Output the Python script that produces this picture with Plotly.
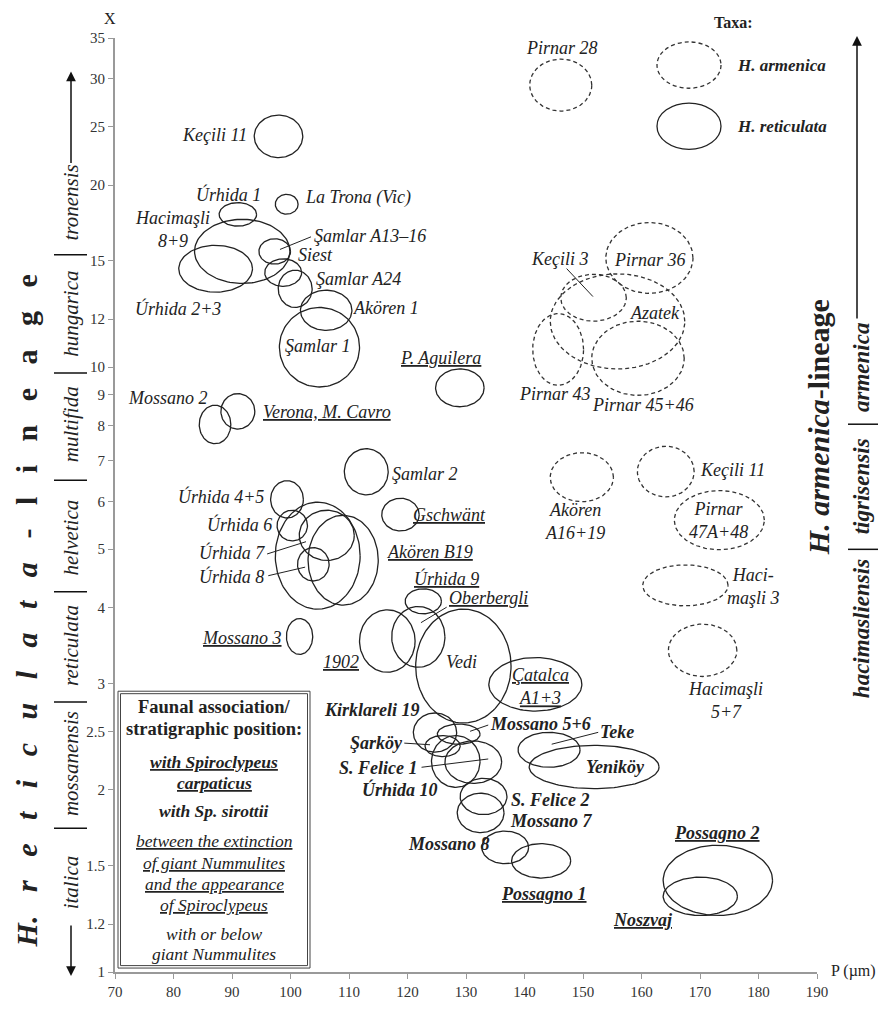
import numpy as np
import plotly.graph_objects as go

# ---------------- data ----------------
# H. reticulata populations: range of P (µm) and X of each ellipse
ret_names = ["Keçili 11", "Úrhida 1", "La Trona (Vic)", "Hacimaşli 8+9", "Úrhida 2+3",
             "Şamlar A13–16", "Siest", "Şamlar A24", "Akören 1", "Şamlar 1", "P. Aguilera",
             "Mossano 2", "Verona, M. Cavro", "Şamlar 2", "Úrhida 4+5", "Gschwänt", "Úrhida 6",
             "Úrhida (pooled)", "Úrhida 7", "Akören B19", "Úrhida 8", "Mossano 3", "Úrhida 9",
             "1902", "Oberbergli", "Vedi", "Çatalca A1+3", "Kirklareli 19", "Mossano 5+6",
             "Şarköy", "S. Felice 1", "Úrhida 10", "S. Felice 2", "Mossano 7", "Mossano 8",
             "Possagno 1", "Teke", "Yeniköy", "Possagno 2", "Noszvaj"]
ret_pmin = [93.8, 87.8, 97.4, 83.6, 80.9, 94.6, 95.6, 97.9, 101.7, 98.1, 124.8,
            84.4, 88.1, 109.2, 96.6, 115.6, 97.7, 97.4, 101.5, 103.0, 101.2, 99.3, 119.6,
            111.8, 117.3, 121.4, 133.9, 121.0, 125.1, 123.0, 124.1, 126.4, 129.0, 128.5, 132.7,
            137.8, 138.9, 140.8, 163.7, 163.7]
ret_pmax = [102.1, 94.2, 101.3, 99.9, 93.5, 100.0, 101.9, 103.7, 110.5, 111.8, 133.1,
            89.8, 93.9, 116.7, 102.2, 122.0, 102.9, 111.9, 110.9, 115.0, 106.6, 103.8, 125.8,
            121.3, 126.4, 137.7, 149.8, 128.4, 132.4, 129.0, 132.4, 136.1, 137.0, 136.5, 140.7,
            147.9, 149.5, 163.0, 182.4, 176.4]
ret_xmin = [22.2, 17.1, 17.9, 13.75, 13.3, 14.8, 13.6, 12.55, 11.5, 9.27, 8.6,
            7.47, 7.9, 6.15, 5.63, 5.36, 5.16, 3.98, 4.79, 4.04, 4.43, 3.35, 3.91,
            3.13, 3.19, 2.58, 2.70, 2.31, 2.38, 2.27, 2.02, 2.05, 1.82, 1.70, 1.51,
            1.43, 2.18, 2.01, 1.24, 1.24]
ret_xmax = [26.1, 18.7, 19.3, 17.55, 15.9, 16.3, 15.1, 14.46, 13.4, 12.55, 9.93,
            8.65, 9.04, 7.33, 6.49, 6.07, 5.80, 5.98, 5.80, 5.69, 5.03, 3.84, 4.30,
            3.97, 4.02, 3.98, 3.31, 2.68, 2.57, 2.46, 2.46, 2.41, 2.09, 1.975, 1.71,
            1.63, 2.49, 2.37, 1.62, 1.435]

# H. armenica populations
arm_names = ["Pirnar 28", "Pirnar 36", "Keçili 3", "Azatek", "Pirnar 43", "Pirnar 45+46",
             "Akören A16+19", "Keçili 11", "Pirnar 47A+48", "Hacimaşli 3", "Hacimaşli 5+7"]
arm_pmin = [140.9, 153.9, 146.2, 144.4, 141.4, 151.5, 144.4, 159.3, 165.6, 160.2, 164.6]
arm_pmax = [151.5, 168.8, 157.4, 167.4, 150.1, 167.3, 155.2, 169.0, 181.0, 174.8, 176.3]
arm_xmin = [26.5, 13.24, 11.91, 9.93, 9.33, 8.98, 5.99, 6.10, 4.99, 4.03, 3.08]
arm_xmax = [32.3, 17.34, 14.24, 14.26, 12.26, 11.91, 7.22, 7.40, 6.25, 4.71, 3.76]

y_ticks = [1, 1.2, 1.5, 2, 2.5, 3, 4, 5, 6, 7, 8, 9, 10, 12, 15, 20, 25, 30, 35]
x_ticks = [70, 80, 90, 100, 110, 120, 130, 140, 150, 160, 170, 180, 190]

left_taxa = ["tronensis", "hungarica", "multifida", "helvetica", "reticulata", "mossanensis", "italica"]
right_taxa = ["armenica", "tigrisensis", "hacimasliensis"]

# ---------------- helpers ----------------
FONT = "Liberation Serif"
INK = "#222222"
T = np.linspace(0, 2 * np.pi, 121)


def outline(pmin, pmax, xmin, xmax):
    xs, ys = [], []
    for a0, a1, b0, b1 in zip(pmin, pmax, xmin, xmax):
        pc, pa = (a0 + a1) / 2, (a1 - a0) / 2
        l0, l1 = np.log10(b0), np.log10(b1)
        lc, lb = (l0 + l1) / 2, (l1 - l0) / 2
        xs += list(pc + pa * np.cos(T)) + [None]
        ys += list(10 ** (lc + lb * np.sin(T))) + [None]
    return xs, ys


fig = go.Figure()
xs, ys = outline(ret_pmin, ret_pmax, ret_xmin, ret_xmax)
fig.add_trace(go.Scatter(x=xs, y=ys, mode="lines", line=dict(color=INK, width=1.3),
                         hoverinfo="skip", showlegend=False))
xs, ys = outline(arm_pmin, arm_pmax, arm_xmin, arm_xmax)
fig.add_trace(go.Scatter(x=xs, y=ys, mode="lines", line=dict(color="#333333", width=1.3, dash="4px,3px"),
                         hoverinfo="skip", showlegend=False))

# leader lines (P, X) pairs
leaders = [((98.2, 15.65), (103.5, 16.42)), ((96.0, 4.91), (102.65, 5.145)),
           ((96.2, 4.52), (102.5, 4.67)), ((122.3, 3.78), (126.7, 4.01)),
           ((147.2, 14.55), (151.7, 13.08)), ((133.8, 2.56), (130.7, 2.50)),
           ((152.6, 2.49), (144.65, 2.38)), ((119.45, 2.39), (123.85, 2.375)),
           ((122.4, 2.18), (133.8, 2.25))]
lx, ly = [], []
for (a, b) in leaders:
    lx += [a[0], b[0], None]
    ly += [a[1], b[1], None]
fig.add_trace(go.Scatter(x=lx, y=ly, mode="lines", line=dict(color=INK, width=1),
                         hoverinfo="skip", showlegend=False))

annotations = []


def lab(text, p, x, size=18, color=INK):
    annotations.append(dict(text=text, x=p, y=float(np.log10(x)), xref="x", yref="y",
                            showarrow=False, xanchor="center", yanchor="middle",
                            font=dict(family=FONT, size=size, color=color)))


# site labels (italic / underlined / bold as in the original)
labels = [
    ("<i>Keçili 11</i>", 87.0, 24.2), ("<i>Úrhida 1</i>", 89.4, 19.3),
    ("<i>La Trona (Vic)</i>", 111.6, 19.1), ("<i>Hacimaşli<br>8+9</i>", 79.9, 16.9),
    ("<i>Şamlar A13–16</i>", 113.6, 16.5), ("<i>Siest</i>", 104.2, 15.3),
    ("<i>Şamlar A24</i>", 111.6, 14.0), ("<i>Úrhida 2+3</i>", 80.8, 12.5),
    ("<i>Akören 1</i>", 116.4, 12.5), ("<i>Şamlar 1</i>", 104.75, 10.84),
    ("<i><u>P. Aguilera</u></i>", 125.6, 10.37), ("<i>Mossano 2</i>", 79.1, 8.89),
    ("<i><u>Verona, M. Cavro</u></i>", 106.2, 8.42), ("<i>Şamlar 2</i>", 123.0, 6.65),
    ("<i>Úrhida 4+5</i>", 88.2, 6.11), ("<i><u>Gschwänt</u></i>", 127.1, 5.70),
    ("<i>Úrhida 6</i>", 91.2, 5.49), ("<i>Úrhida 7</i>", 89.95, 4.93),
    ("<i><u>Akören B19</u></i>", 123.85, 4.94), ("<i>Úrhida 8</i>", 89.95, 4.51),
    ("<i><u>Úrhida 9</u></i>", 126.6, 4.48), ("<i><u>Oberbergli</u></i>", 133.8, 4.16),
    ("<i><u>Mossano 3</u></i>", 91.66, 3.57), ("<i><u>1902</u></i>", 108.6, 3.25),
    ("<i>Vedi</i>", 129.3, 3.26), ("<i><u>Çatalca</u><br><u>A1+3</u></i>", 142.7, 2.96),
    ("<b><i>Kirklareli 19</i></b>", 113.9, 2.71), ("<b><i>Mossano 5+6</i></b>", 142.65, 2.575),
    ("<b><i>Teke</i></b>", 155.8, 2.49), ("<b><i>Şarköy</i></b>", 114.7, 2.39),
    ("<b><i>Yeniköy</i></b>", 155.5, 2.18), ("<b><i>S. Felice 1</i></b>", 115.0, 2.17),
    ("<b><i>Úrhida 10</i></b>", 118.7, 2.005), ("<b><i>S. Felice 2</i></b>", 144.4, 1.925),
    ("<b><i>Mossano 7</i></b>", 144.65, 1.775), ("<b><i>Mossano 8</i></b>", 127.1, 1.626),
    ("<b><i><u>Possagno 1</u></i></b>", 143.3, 1.348), ("<b><i><u>Possagno 2</u></i></b>", 172.85, 1.70),
    ("<b><i><u>Noszvaj</u></i></b>", 160.3, 1.22),
    ("<i>Pirnar 28</i>", 146.4, 33.7), ("<i>Keçili 3</i>", 146.1, 15.1),
    ("<i>Pirnar 36</i>", 161.45, 15.05), ("<i>Azatek</i>", 162.3, 12.28),
    ("<i>Pirnar 43</i>", 145.2, 9.01), ("<i>Pirnar 45+46</i>", 160.3, 8.65),
    ("<i>Akören<br>A16+19</i>", 148.6, 5.55), ("<i>Keçili 11</i>", 175.5, 6.76),
    ("<i>Pirnar<br>47A+48</i>", 173.1, 5.58), ("<i>Haci-<br>maşli 3</i>", 179.2, 4.34),
    ("<i>Hacimaşli<br>5+7</i>", 174.4, 2.81),
]
for t, p, x in labels:
    lab(t, p, x)

# ---------------- paper-space decorations ----------------
L, R, TOP, BOT = 115, 63, 38, 26
PW, PH = 880 - L - R, 1012 - TOP - BOT


def fx(px):
    return (px - L) / PW


def fy(py):
    return (1012 - BOT - py) / PH


def ptext(text, px, py, size=17, angle=0, xanchor="center", color=INK):
    annotations.append(dict(text=text, x=fx(px), y=fy(py), xref="paper", yref="paper",
                            showarrow=False, xanchor=xanchor, yanchor="middle", textangle=angle,
                            font=dict(family=FONT, size=size, color=color)))


shapes = []

# Legend
ptext("<b>Taxa:</b>", 733, 22, size=16)
ptext("<b><i>H. armenica</i></b>", 735, 66, size=17, xanchor="left")
ptext("<b><i>H. reticulata</i></b>", 735, 128, size=17, xanchor="left")
shapes.append(dict(type="circle", xref="paper", yref="paper", x0=fx(657), x1=fx(721),
                   y0=fy(89), y1=fy(42), line=dict(color="#333333", width=1.3, dash="4px,3px")))
shapes.append(dict(type="circle", xref="paper", yref="paper", x0=fx(657), x1=fx(721),
                   y0=fy(151), y1=fy(104), line=dict(color=INK, width=1.3)))

# Box: faunal association
shapes.append(dict(type="rect", xref="paper", yref="paper", x0=fx(118), x1=fx(310),
                   y0=fy(982), y1=fy(701), line=dict(color="#444444", width=1)))
shapes.append(dict(type="rect", xref="paper", yref="paper", x0=fx(120.5), x1=fx(307.5),
                   y0=fy(979.5), y1=fy(703.5), line=dict(color="#444444", width=1)))
box_lines = [
    ("<b>Faunal association/</b>", 717, 18.5),
    ("<b>stratigraphic position:</b>", 739, 18.5),
    ("<b><i><u>with Spiroclypeus</u></i></b>", 773, 17.5),
    ("<b><i><u>carpaticus</u></i></b>", 794, 17.5),
    ("<b><i>with Sp. sirottii</i></b>", 823, 17.5),
    ("<i><u>between the extinction</u></i>", 853, 17.5),
    ("<i><u>of giant Nummulites</u></i>", 875, 17.5),
    ("<i><u>and the appearance</u></i>", 897, 17.5),
    ("<i><u>of Spiroclypeus</u></i>", 918, 17.5),
    ("<i>with or below</i>", 947, 17.5),
    ("<i>giant Nummulites</i>", 968, 17.5),
]
for t, py, s in box_lines:
    ptext(t, 214, py, size=s)

# Axis titles
ptext("X", 110, 18, size=16)
ptext("P (µm)", 878, 985, size=16, xanchor="right")

# Left lineage label (letter-spaced)
sp = "\u2002\u2009\u200a"
left_big = ("<b><i>H." + sp + sp.join("reticulata") + "</i>" + sp + "-" + sp + sp.join("lineage") + "</b>")
ptext(left_big, 26, 620, size=30, angle=-90)

left_y = [205, 318, 430, 545, 655, 775, 895]
for name, py in zip(left_taxa, left_y):
    ptext("<i>" + name + "</i>", 71, py, size=21, angle=-90)
for py in [258, 378, 487, 600, 712, 840]:
    shapes.append(dict(type="line", xref="paper", yref="paper", x0=fx(54), x1=fx(87),
                       y0=fy(py), y1=fy(py), line=dict(color="#111111", width=1.5)))
annotations.append(dict(x=fx(71), y=fy(72), xref="paper", yref="paper", text="", showarrow=True,
                        ax=0, ay=93, arrowhead=2, arrowsize=1.3, arrowwidth=1.5, arrowcolor="#111111",
                        standoff=0, startstandoff=0))
annotations.append(dict(x=fx(71), y=fy(990), xref="paper", yref="paper", text="", showarrow=True,
                        ax=0, ay=-52, arrowhead=2, arrowsize=1.3, arrowwidth=1.5, arrowcolor="#111111",
                        standoff=0, startstandoff=0))

# Right lineage label
ptext("<b><i>H. armenica</i>-lineage</b>", 818, 433, size=30, angle=-90)
right_y = [373, 493, 638]
for name, py in zip(right_taxa, right_y):
    ptext("<b><i>" + name + "</i></b>", 861, py, size=23, angle=-90)
for py in [430, 557]:
    shapes.append(dict(type="line", xref="paper", yref="paper", x0=fx(848), x1=fx(878),
                       y0=fy(py), y1=fy(py), line=dict(color="#111111", width=1.5)))
annotations.append(dict(x=fx(857), y=fy(36), xref="paper", yref="paper", text="", showarrow=True,
                        ax=0, ay=284, arrowhead=2, arrowsize=1.3, arrowwidth=1.5, arrowcolor="#111111",
                        standoff=0, startstandoff=0))

fig.update_layout(
    width=880, height=1012,
    margin=dict(l=L, r=R, t=TOP, b=BOT, pad=0),
    paper_bgcolor="white", plot_bgcolor="white",
    showlegend=False,
    font=dict(family=FONT, size=15, color="#333333"),
    annotations=annotations, shapes=shapes,
    xaxis=dict(range=[70, 190], tickvals=x_ticks, ticktext=[str(v) for v in x_ticks],
               showgrid=False, zeroline=False, showline=True, linecolor="#999999", linewidth=2,
               ticks="outside", ticklen=5, tickcolor="#999999", tickwidth=1,
               tickfont=dict(family=FONT, size=15, color="#333333")),
    yaxis=dict(type="log", range=[0, np.log10(35)], tickvals=y_ticks,
               ticktext=[str(v) for v in y_ticks],
               showgrid=False, zeroline=False, showline=True, linecolor="#999999", linewidth=2,
               ticks="outside", ticklen=5, tickcolor="#999999", tickwidth=1,
               tickfont=dict(family=FONT, size=15, color="#333333")),
)

fig.write_html("out.html", config={"displayModeBar": False},
               post_script="document.body.style.margin='0';")
